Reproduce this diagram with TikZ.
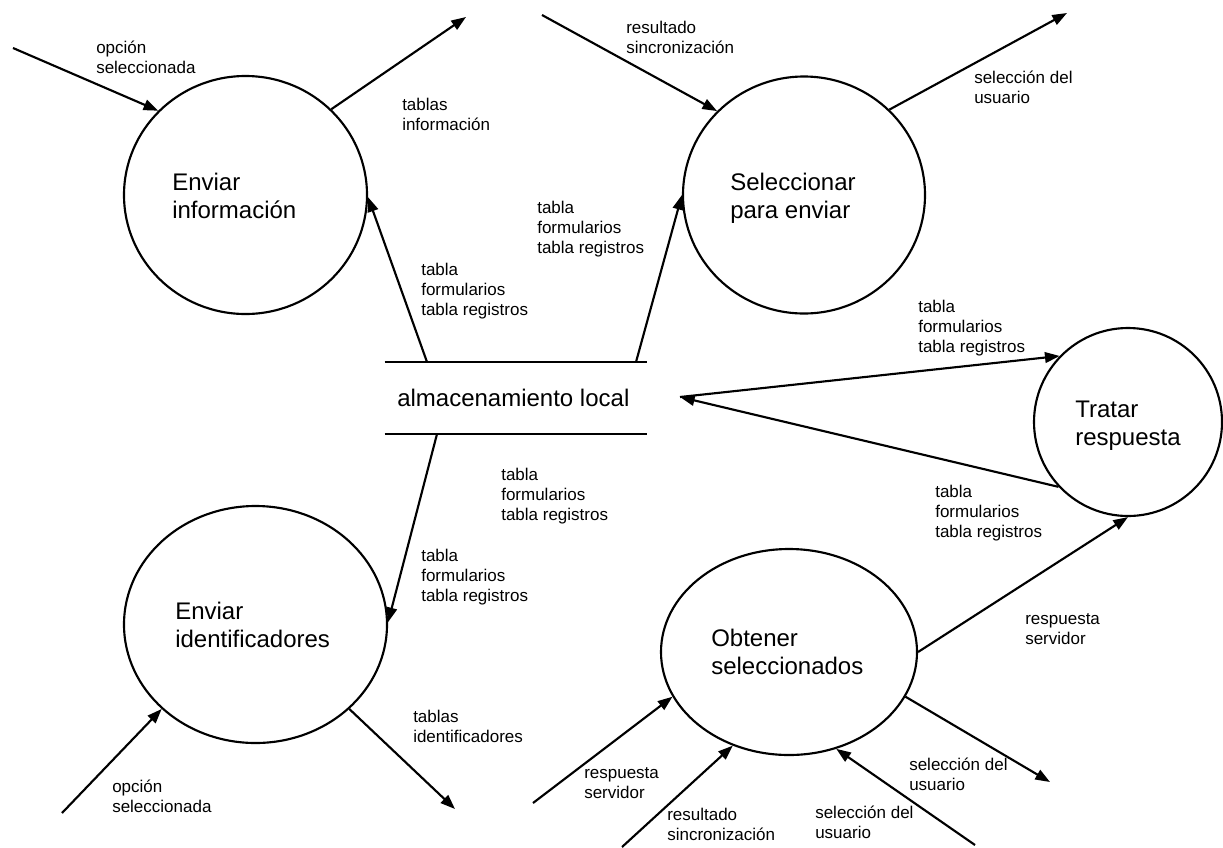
\documentclass[tikz,border=0pt]{standalone}
\usepackage{fontspec}
\setmainfont{Liberation Sans}
\usetikzlibrary{arrows.meta,shapes.geometric}
\begin{document}
\begin{tikzpicture}[x=0.75pt,y=-0.75pt,
  proc/.style 2 args={ellipse,draw,line width=1.6pt,minimum width=#1*1.5pt,minimum height=#2*1.5pt,inner sep=0pt},
  flow/.style={line width=1.6pt,-{Triangle[length=11pt,width=8pt]}},
  lbl/.style={anchor=base west,align=left,inner sep=0pt,font=\fontsize{12.75pt}{15pt}\selectfont},
  title/.style={anchor=base west,align=left,inner sep=0pt,font=\fontsize{18pt}{21pt}\selectfont},
]
\useasboundingbox (0,0) rectangle (1223,847);

% processes
\node[proc={121.5}{119}]   (E1) at (245.5,195) {};
\node[proc={121}{118.5}]   (E2) at (804,195) {};
\node[proc={94}{94}]       (E3) at (1128,422) {};
\node[proc={131.5}{118.5}] (E4) at (255.5,624.5) {};
\node[proc={128}{103}]     (E5) at (789,652) {};

% process names (positioned by the baseline of the last line)
\node[title] (T1) at (172,218) {Enviar\\información};
\node[title] (T2) at (730,218) {Seleccionar\\para enviar};
\node[title] (T3) at (1075,445) {Tratar\\respuesta};
\node[title] (T4) at (175,647) {Enviar\\identificadores};
\node[title] (T5) at (711,674) {Obtener\\seleccionados};

% data store
\node[minimum width=262*0.75pt,minimum height=72*0.75pt,inner sep=0pt] (store) at (516,398) {};
\draw[line width=1.6pt] (store.north west) -- (store.north east);
\draw[line width=1.6pt] (store.south west) -- (store.south east);
\node[title] (storelbl) at (397,406) {almacenamiento local};

% connector ends on the store and free ends
\coordinate (s1) at (427,362);
\coordinate (s2) at (636,362);
\coordinate (s3) at (437,434);
\coordinate (s4) at (680,397);
\coordinate (a1) at (13,48);
\coordinate (a2) at (466,17);
\coordinate (a3) at (542,15);
\coordinate (a4) at (1067,13);
\coordinate (a5) at (62,813);
\coordinate (a6) at (455,809);
\coordinate (a7) at (533,803);
\coordinate (a8) at (622,847);
\coordinate (a9) at (975,845);
\coordinate (a10) at (1050,782);

% flows
\draw[flow] (a1) -- (E1.136);
\draw[flow] (E1.45) -- (a2);
\draw[flow] (s1) -- (E1.-1);
\draw[flow] (a3) -- (E2.136);
\draw[flow] (E2.45) -- (a4);
\draw[flow] (s2) -- (E2.180);
\draw[flow] (s4) -- (E3.136);
\draw[flow] (E3.223) -- (s4);
\draw[flow] (s3) -- (E4.1);
\draw[flow] (a5) -- (E4.222);
\draw[flow] (E4.318) -- (a6);
\draw[flow] (a7) -- (E5.201);
\draw[flow] (a8) -- (E5.239);
\draw[flow] (a9) -- (E5.296);
\draw[flow] (E5.339) -- (a10);
\draw[flow] (E5.0) -- (E3.270);

% flow labels (positioned by the baseline of the last line)
\node[lbl] (L1)  at (96,73)    {opción\\seleccionada};
\node[lbl] (L2)  at (402,130)  {tablas\\información};
\node[lbl] (L3)  at (421,315)  {tabla\\formularios\\tabla registros};
\node[lbl] (L4)  at (626,53)   {resultado\\sincronización};
\node[lbl] (L5)  at (537,253)  {tabla\\formularios\\tabla registros};
\node[lbl] (L6)  at (974,103)  {selección del\\usuario};
\node[lbl] (L7)  at (918,352)  {tabla\\formularios\\tabla registros};
\node[lbl] (L8)  at (935,537)  {tabla\\formularios\\tabla registros};
\node[lbl] (L9)  at (501,520)  {tabla\\formularios\\tabla registros};
\node[lbl] (L10) at (421,601)  {tabla\\formularios\\tabla registros};
\node[lbl] (L11) at (413,742)  {tablas\\identificadores};
\node[lbl] (L12) at (112,812)  {opción\\seleccionada};
\node[lbl] (L13) at (584,798)  {respuesta\\servidor};
\node[lbl] (L14) at (667,840)  {resultado\\sincronización};
\node[lbl] (L15) at (815,838)  {selección del\\usuario};
\node[lbl] (L16) at (909,790)  {selección del\\usuario};
\node[lbl] (L17) at (1025,644) {respuesta\\servidor};
\end{tikzpicture}
\end{document}
